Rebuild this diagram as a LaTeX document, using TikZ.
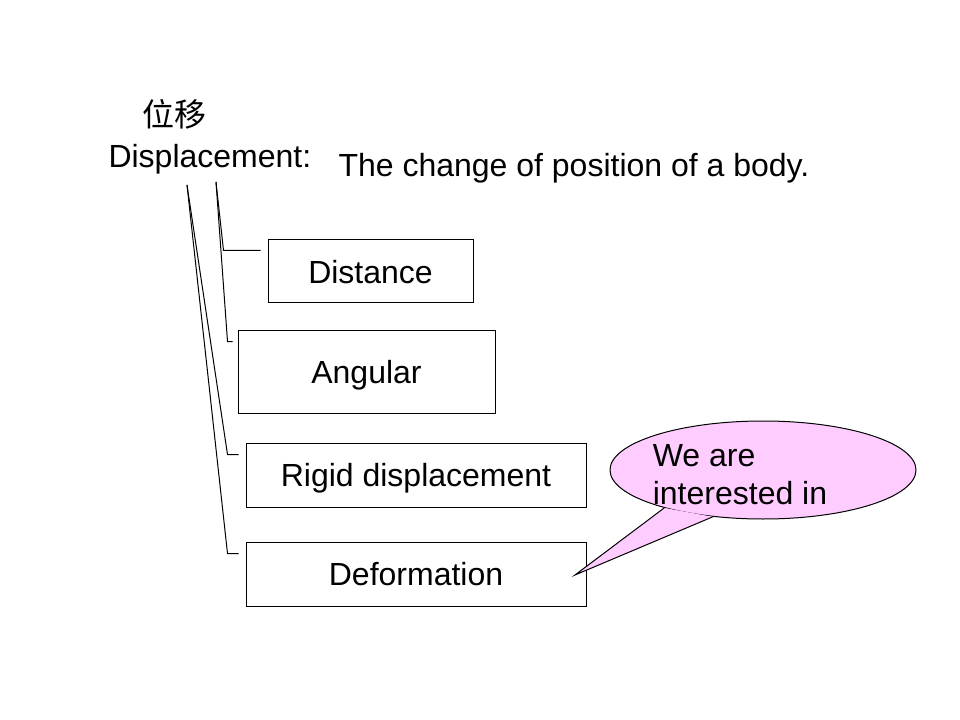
\documentclass[tikz,border=0pt]{standalone}
\usepackage{fontspec}
\setmainfont{Liberation Sans}
\newfontfamily\cjk{Noto Sans CJK SC}
\tikzstyle{every node}+=[inner sep=0pt,font=\fontsize{24}{28.5}\selectfont]
\tikzstyle{every path}+=[line width=0.75pt]
\tikzstyle{box}=[draw,inner sep=0pt,text depth=0pt]
\tikzstyle{bubble}=[draw,ellipse,fill=bubblepink,minimum width=229.5pt,minimum height=73.5pt]
\definecolor{bubblepink}{HTML}{FFCCFF}
\usetikzlibrary{calc,positioning,shapes.geometric}

\begin{document}
\begin{tikzpicture}[x=0.75pt,y=-0.75pt]
\useasboundingbox (0,0) rectangle (960,720);

\node (cn) at (174,114) {\cjk 位移};
\node[anchor=west] (disp) at (108,159) {Displacement:};
\node[anchor=west] (def) at (338,168) {The change of position of a body.};

\node[box,minimum width=153.75pt,minimum height=47.25pt] (dist) at (370.5,271.5) {Distance};
\node[box,minimum width=192.75pt,minimum height=62.25pt] (ang) at (366.5,371.5) {Angular};
\node[box,minimum width=255pt,minimum height=48pt] (rigid) at (416,475) {Rigid displacement};
\node[box,minimum width=255pt,minimum height=48pt] (deform) at (416,574) {Deformation};

\coordinate (t1) at (216,182);
\coordinate (t2) at (187,185);
\draw (t1) -- ($(dist.north west)+(-44,11)$) -- ($(dist.north west)+(-7,11)$);
\draw (t1) -- ($(ang.north west)+(-10,12)$) -- ($(ang.north west)+(-5,12)$);
\draw (t2) -- ($(rigid.north west)+(-18,12)$) -- ($(rigid.north west)+(-7,12)$);
\draw (t2) -- ($(deform.north west)+(-18,12)$) -- ($(deform.north west)+(-7,12)$);

% callout
\node[bubble] (call) at (763,470) {};
\coordinate (tip) at (575,575);
\fill[bubblepink] (call.201) -- (tip) -- (call.223) -- cycle;
\draw (call.201) -- (tip) -- (call.223);
\node[align=left] (note) at (740,475) {We are\\interested in};
\end{tikzpicture}
\end{document}
